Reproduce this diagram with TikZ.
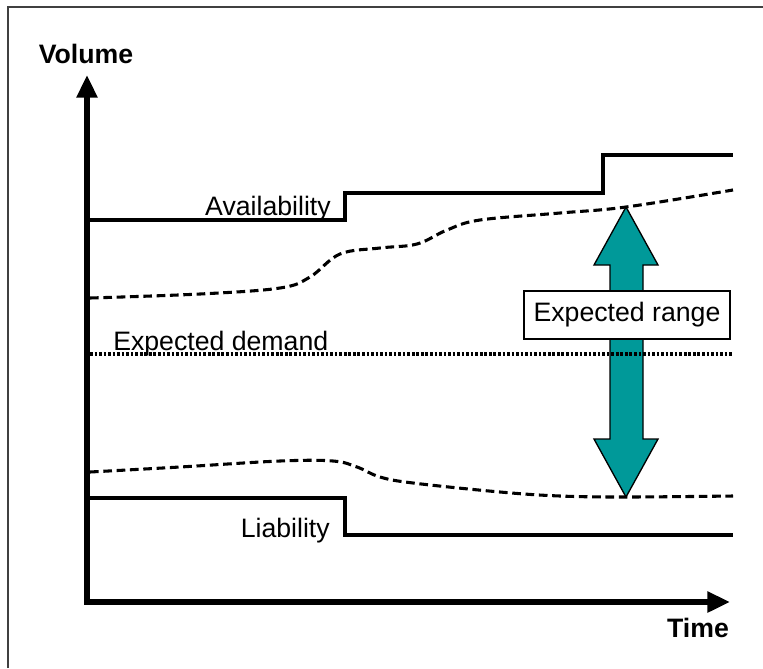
\documentclass[tikz,border=0pt]{standalone}
\usepackage{fontspec}
\setmainfont{Liberation Sans}
\usetikzlibrary{arrows.meta}

\definecolor{rangeteal}{RGB}{0,153,153}

\begin{document}
\begin{tikzpicture}[x=0.75pt, y=-0.75pt, font=\fontsize{20}{24}\selectfont,
  level/.style={line width=2.6pt, line join=miter},
  bound/.style={line width=2.3pt, dash pattern=on 6.5pt off 3.5pt},
  mean/.style={line width=2.4pt, dash pattern=on 2pt off 1.4pt}]
  \useasboundingbox (0,0) rectangle (763,668);
  \draw[line width=0.8pt, black!75] (8,668) -- (8,7) -- (763,7);

  \coordinate (Top) at (87,75);
  \coordinate (O) at (87,602);
  \coordinate (End) at (730,602);

  % expected range
  \draw[fill=rangeteal, line width=1pt, line join=miter]
    (626,207) -- (658,265) -- (643,265) -- (643,439) -- (658,439) -- (626,497)
    -- (594,439) -- (610,439) -- (610,265) -- (594,265) -- cycle;
  \node[draw, fill=white, line width=0.8pt, inner sep=0pt,
        minimum width=154.5pt, minimum height=36pt] (range) at (627,315) {Expected range};

  % axes
  \draw[line width=5pt, line join=miter,
        {Triangle[length=17pt,width=15pt]}-{Triangle[length=17pt,width=15pt]}]
    (Top) -- (O) -- (End);
  \node[font=\fontsize{20}{24}\selectfont\bfseries, anchor=base] (vol) at (86,63) {Volume};
  \node[font=\fontsize{20}{24}\selectfont\bfseries, anchor=base] (time) at (698,637) {Time};

  % availability and liability
  \draw[level] (90,220) -- (345,220) -- (345,193) -- (603,193) -- (603,155) -- (733,155);
  \draw[level] (90,498) -- (345,498) -- (345,535) -- (733,535);
  \node[anchor=base east, inner sep=0pt] (avail) at (331,215) {Availability};
  \node[anchor=base east, inner sep=0pt] (liab) at (330,537) {Liability};

  % expected demand
  \draw[mean] (90,354) -- (733,354);
  \node[anchor=base west, inner sep=0pt] (demand) at (113,350) {Expected demand};

  % upper and lower bounds
  \draw[bound] plot[smooth, tension=0.6] coordinates {(90,298) (200,294) (280,288) (310,277)
    (340,254) (380,248) (417,244) (447,230) (480,220) (560,213) (626,207) (733,190)};
  \draw[bound] plot[smooth, tension=0.6] coordinates {(90,472) (180,467) (280,461) (333,461)
    (357,467) (380,477) (413,483) (500,492) (560,496) (626,497) (733,496)};
\end{tikzpicture}
\end{document}
